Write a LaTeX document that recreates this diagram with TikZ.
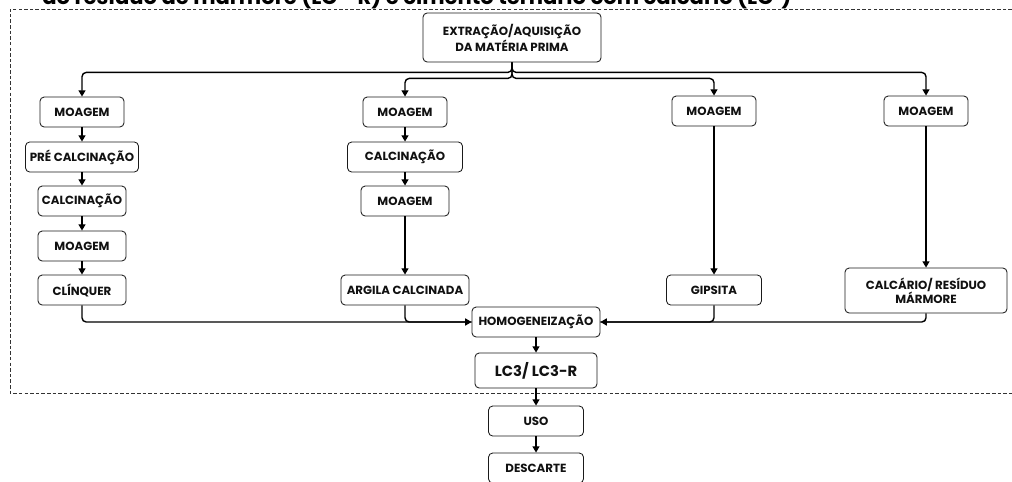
\documentclass[tikz,border=0pt]{standalone}
\usepackage{fontspec}
\setsansfont{Poppins}
\usetikzlibrary{arrows.meta,positioning}
\definecolor{boxStroke}{HTML}{1A1A1A}
\definecolor{textMain}{HTML}{111111}
\definecolor{frameStroke}{HTML}{333333}

\begin{document}
\begin{tikzpicture}[
    x=0.025cm, y=-0.025cm,
    font=\sffamily\bfseries\fontsize{8.4}{10}\selectfont,
    >={Triangle[length=4.5pt,width=5pt]},
    stepNode/.style={
        rectangle, rounded corners=3pt,
        draw=boxStroke, line width=0.6pt,
        fill=white, text=textMain,
        minimum height=0.75cm, inner sep=2pt,
        align=center
    },
    bigNode/.style={stepNode, font=\sffamily\bfseries\fontsize{10.5}{12}\selectfont},
    flow/.style={->, line width=1pt, draw=black, rounded corners=3pt},
    merge/.style={line width=1pt, draw=black, rounded corners=3pt},
    boundary/.style={dashed, dash pattern=on 2.5pt off 1.5pt, line width=0.6pt, draw=frameStroke},
    titleCut/.style={font=\sffamily\bfseries\fontsize{15}{18}\selectfont, anchor=base west, inner sep=0pt}
]

% Layout plan: coordinates are in pixels of the reference (x right, y down);
% the page is clipped so the caption above shows only its lower half.
\useasboundingbox (0,0) rectangle (1012,481);
\clip (0,0) rectangle (1012,481);

\node[titleCut] (Caption) at (42,4)
  {do resíduo de mármore (LC³-R) e cimento ternário com calcário (LC³)};

\draw[boundary] (1012,9) -- (10,9) -- (10,393) -- (1012,393);

\node[stepNode, minimum width=4.45cm, minimum height=1.225cm] (Extracao) at (512,37.5)
  {EXTRAÇÃO/AQUISIÇÃO\\DA MATÉRIA PRIMA};

% clinker line
\node[stepNode, minimum width=2.1cm] (MoagemA1) at (82,112) {MOAGEM};
\node[stepNode, minimum width=2.825cm] (PreCalc) at (82,157) {PRÉ CALCINAÇÃO};
\node[stepNode, minimum width=2.2cm] (CalcA) at (82,201) {CALCINAÇÃO};
\node[stepNode, minimum width=2.2cm] (MoagemA2) at (82,246) {MOAGEM};
\node[stepNode, minimum width=2.2cm] (Clinquer) at (82,290) {CLÍNQUER};

% clay line
\node[stepNode, minimum width=2.1cm] (MoagemB1) at (405,112) {MOAGEM};
\node[stepNode, minimum width=2.875cm] (CalcB) at (405,157) {CALCINAÇÃO};
\node[stepNode, minimum width=2.2cm] (MoagemB2) at (405,201) {MOAGEM};
\node[stepNode, minimum width=3.2cm] (Argila) at (405,290) {ARGILA CALCINADA};

% gypsum and limestone
\node[stepNode, minimum width=2.1cm] (MoagemC) at (714,111) {MOAGEM};
\node[stepNode, minimum width=2.375cm] (Gipsita) at (714,290) {GIPSITA};
\node[stepNode, minimum width=2.1cm] (MoagemD) at (926,111) {MOAGEM};
\node[stepNode, minimum width=4.05cm, minimum height=1.125cm] (Calcario) at (926,290.5)
  {CALCÁRIO/ RESÍDUO\\MÁRMORE};

% blend and life cycle
\node[stepNode, minimum width=3.2cm] (Homog) at (536,322) {HOMOGENEIZAÇÃO};
\node[bigNode, minimum width=3.05cm, minimum height=0.875cm] (Cimento) at (536,370.5) {LC3/ LC3-R};
\node[stepNode, minimum width=2.375cm] (Uso) at (536,421) {USO};
\node[stepNode, minimum width=2.375cm] (Descarte) at (536,468) {DESCARTE};

\draw[flow] (Extracao.south) -- ++(0,10) -| (MoagemA1.north);
\draw[flow] (Extracao.south) -- ++(0,10) -| (MoagemD.north);
\draw[flow] (Extracao.south) -- ++(0,16) -| (MoagemB1.north);
\draw[flow] (Extracao.south) -- ++(0,16) -| (MoagemC.north);

\draw[flow] (MoagemA1) -- (PreCalc);
\draw[flow] (PreCalc) -- (CalcA);
\draw[flow] (CalcA) -- (MoagemA2);
\draw[flow] (MoagemA2) -- (Clinquer);

\draw[flow] (MoagemB1) -- (CalcB);
\draw[flow] (CalcB) -- (MoagemB2);
\draw[flow] (MoagemB2) -- (Argila);

\draw[flow] (MoagemC) -- (Gipsita);
\draw[flow] (MoagemD) -- (Calcario);

\draw[flow] (Clinquer.south) |- (Homog.west);
\draw[merge] (Argila.south) |- (Homog.west);
\draw[flow] (Calcario.south) |- (Homog.east);
\draw[merge] (Gipsita.south) |- (Homog.east);

\draw[flow] (Homog) -- (Cimento);
\draw[flow] (Cimento) -- (Uso);
\draw[flow] (Uso) -- (Descarte);

\end{tikzpicture}
\end{document}
